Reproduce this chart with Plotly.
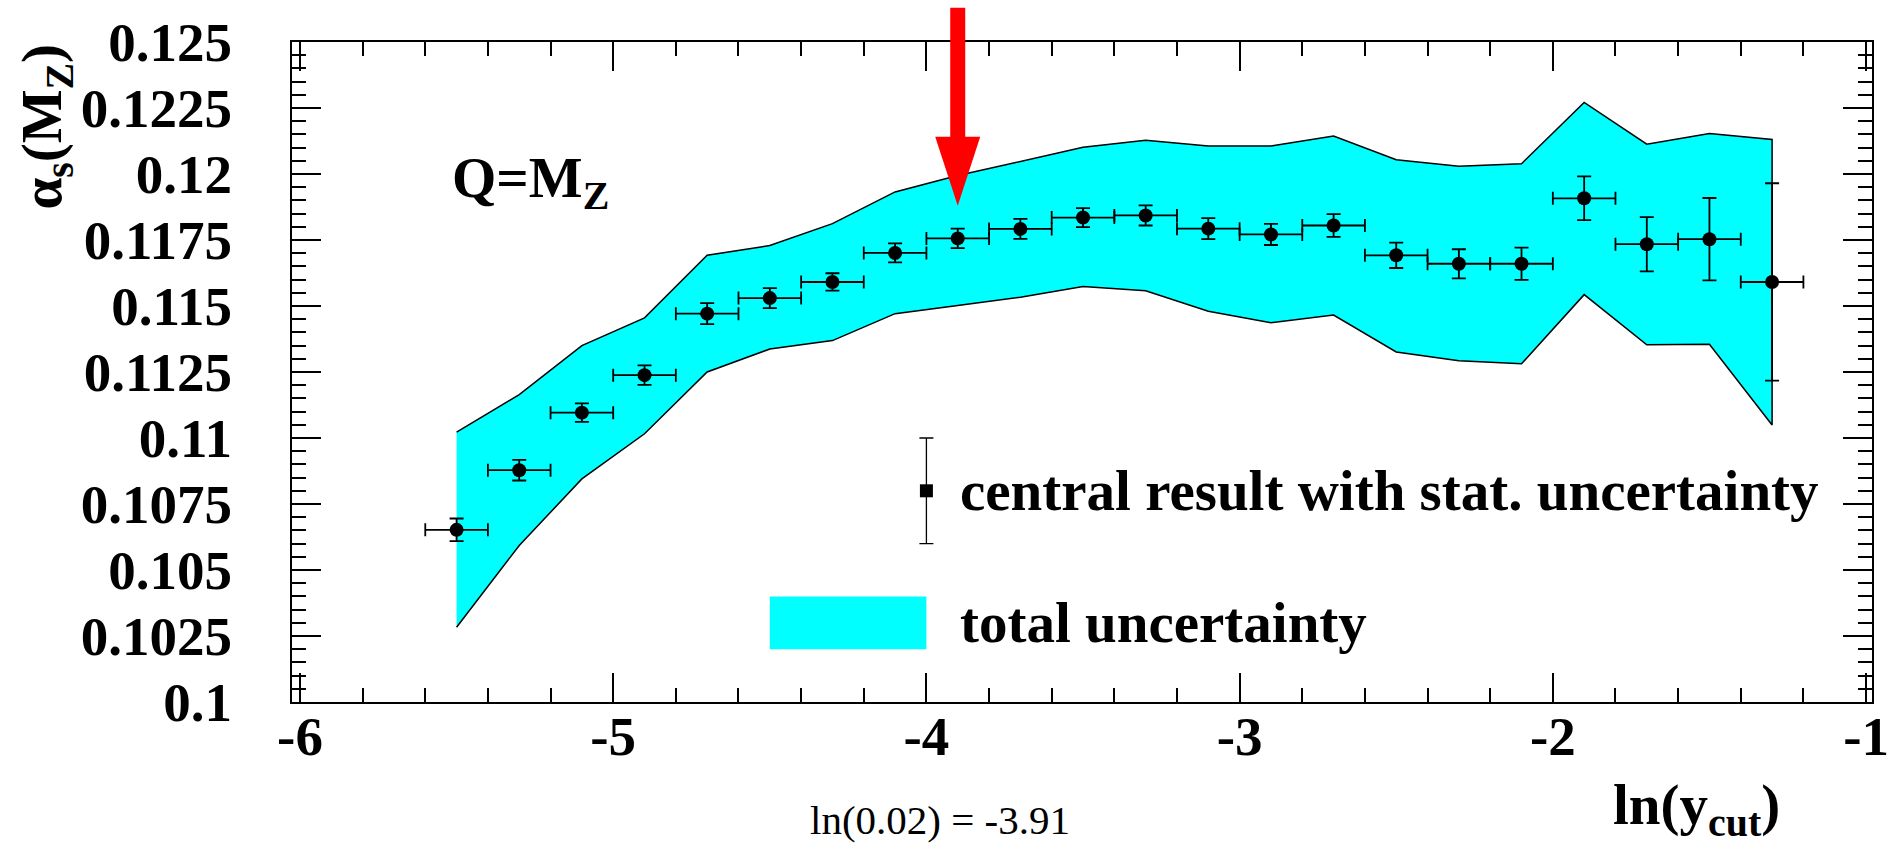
import plotly.graph_objects as go

# ---------------- data ----------------
ln_ycut = [-5.5, -5.3, -5.1, -4.9, -4.7, -4.5, -4.3, -4.1, -3.9, -3.7, -3.5,
           -3.3, -3.1, -2.9, -2.7, -2.5, -2.3, -2.1, -1.9, -1.7, -1.5, -1.3]
alpha_s = [0.10652, 0.10878, 0.11096, 0.11238, 0.11471, 0.11530, 0.11591,
           0.11701, 0.11756, 0.11792, 0.11835, 0.11843, 0.11793, 0.11771,
           0.11805, 0.11692, 0.11660, 0.11660, 0.11908, 0.11734, 0.11753,
           0.11591]
stat_err = [0.00043, 0.00039, 0.00035, 0.00037, 0.00040, 0.00038, 0.00033,
            0.00036, 0.00037, 0.00038, 0.00036, 0.00038, 0.00040, 0.00040,
            0.00043, 0.00048, 0.00055, 0.00061, 0.00083, 0.00103, 0.00156,
            0.00374]
bin_half_width = 0.1
band_upper = [0.11022, 0.11164, 0.11350, 0.11455, 0.11692, 0.11729, 0.11812,
              0.11932, 0.11994, 0.12047, 0.12101, 0.12128, 0.12106, 0.12106,
              0.12144, 0.12054, 0.12029, 0.12039, 0.12271, 0.12113, 0.12153,
              0.12131]
band_lower = [0.10283, 0.10593, 0.10845, 0.11016, 0.11250, 0.11337, 0.11369,
              0.11471, 0.11502, 0.11533, 0.11574, 0.11558, 0.11480, 0.11437,
              0.11466, 0.11326, 0.11293, 0.11281, 0.11543, 0.11353, 0.11355,
              0.11049]

x_tick_vals = [-6, -5, -4, -3, -2, -1]
x_tick_text = ["-6", "-5", "-4", "-3", "-2", "-1"]
y_tick_vals = [0.1, 0.1025, 0.105, 0.1075, 0.11, 0.1125, 0.115, 0.1175, 0.12,
               0.1225, 0.125]
y_tick_text = ["0.1", "0.1025", "0.105", "0.1075", "0.11", "0.1125", "0.115",
               "0.1175", "0.12", "0.1225", "0.125"]

# legend sample / annotation anchors (data units)
legend_point_x, legend_point_y, legend_point_err = -4.0, 0.108, 0.002
legend_box_x = [-4.5, -4.0]
legend_box_y = [0.102, 0.104]
legend_text_x = -3.9
arrow_x = -3.9          # ln(0.02) = -3.91
arrow_tip_y = 0.1188

# ---------------- layout geometry ----------------
W, H = 1901, 849
L, R, T, B = 292, 25, 30, 147
PW, PH = W - L - R, H - T - B
X_RANGE = [-6.0255, -0.981]
Y_RANGE = [0.1, 0.125]


def px_x(px):
    return (px - L) / PW


def px_y(py):
    return (H - B - py) / PH


FONT = "Liberation Serif, Times New Roman, Times, DejaVu Serif, serif"
BLACK = "#000000"
CYAN = "#00FFFF"
RED = "#FF0000"

fig = go.Figure()

# total uncertainty band
fig.add_trace(go.Scatter(
    x=ln_ycut + ln_ycut[::-1],
    y=band_upper + band_lower[::-1],
    mode="lines", fill="toself", fillcolor=CYAN,
    line=dict(color=BLACK, width=1.5),
    hoverinfo="skip", showlegend=False,
))

# central values with stat. uncertainty
fig.add_trace(go.Scatter(
    x=ln_ycut, y=alpha_s, mode="markers",
    marker=dict(symbol="circle", size=14, color=BLACK),
    error_y=dict(type="data", array=stat_err, visible=True,
                 color=BLACK, thickness=1.8, width=7),
    error_x=dict(type="constant", value=bin_half_width, visible=True,
                 color=BLACK, thickness=1.8, width=6.5),
    showlegend=False,
))

# legend sample point
fig.add_trace(go.Scatter(
    x=[legend_point_x], y=[legend_point_y], mode="markers",
    marker=dict(symbol="square", size=13, color=BLACK),
    error_y=dict(type="constant", value=legend_point_err, visible=True,
                 color=BLACK, thickness=1.3, width=7),
    showlegend=False,
))

shapes = [
    # legend swatch
    dict(type="rect", xref="x", yref="y",
         x0=legend_box_x[0], x1=legend_box_x[1],
         y0=legend_box_y[0], y1=legend_box_y[1],
         fillcolor=CYAN, line=dict(width=0), layer="above"),
    # arrow shaft
    dict(type="rect", xref="x", yref="paper", xsizemode="pixel",
         xanchor=arrow_x, x0=-7.5, x1=7.5, y0=px_y(134), y1=px_y(-5),
         fillcolor=RED, line=dict(width=0), layer="above"),
    # arrow head
    dict(type="path", xref="x", yref="y", xsizemode="pixel",
         ysizemode="pixel", xanchor=arrow_x, yanchor=arrow_tip_y,
         path="M -22.5 69 L 22.5 69 L 0 0 Z",
         fillcolor=RED, line=dict(width=0), layer="above"),
]

bold = dict(family=FONT, size=57, color=BLACK, weight="bold")

annotations = [
    dict(text="Q=M<sub>Z</sub>", xref="x", yref="y", x=-5.52, y=0.1197,
         xanchor="left", yanchor="middle", showarrow=False, font=bold),
    dict(text="central result with stat. uncertainty", xref="x", yref="y",
         x=legend_text_x, y=legend_point_y, xanchor="left",
         yanchor="middle", showarrow=False, font=bold),
    dict(text="total uncertainty", xref="x", yref="y",
         x=legend_text_x, y=sum(legend_box_y) / 2, xanchor="left",
         yanchor="middle", showarrow=False, font=bold),
    dict(text="ln(y<sub>cut</sub>)", xref="paper", yref="paper",
         x=px_x(1785), y=px_y(849), xanchor="right", yanchor="bottom",
         borderpad=0, showarrow=False, font=bold),
    dict(text="α<sub>s</sub>(M<sub>Z</sub>)", xref="paper", yref="paper",
         x=px_x(45), y=px_y(30), xanchor="center", yanchor="top",
         textangle=-90, showarrow=False, font=bold),
    dict(text="ln(0.02) = -3.91", xref="paper", yref="paper",
         x=px_x(942), y=px_y(822), xanchor="center", yanchor="middle",
         borderpad=0, showarrow=False,
         font=dict(family=FONT, size=41, color=BLACK)),
]

axis_common = dict(
    showline=True, linecolor=BLACK, linewidth=2, mirror="allticks",
    ticks="inside", tickcolor=BLACK, tickwidth=1.5, ticklen=29,
    showgrid=False, zeroline=False,
    tickfont=dict(family=FONT, size=55, color=BLACK, weight="bold"),
)

fig.update_layout(
    width=W, height=H, autosize=False,
    margin=dict(l=L, r=R, t=T, b=B, pad=0),
    paper_bgcolor="white", plot_bgcolor="white",
    xaxis=dict(range=X_RANGE, tickmode="array", tickvals=x_tick_vals,
               ticktext=x_tick_text, ticklabelstandoff=-15,
               minor=dict(ticks="inside", ticklen=14, tickwidth=1.5,
                          tickcolor=BLACK, dtick=0.2, showgrid=False),
               **axis_common),
    yaxis=dict(range=Y_RANGE, tickmode="array", tickvals=y_tick_vals,
               ticktext=y_tick_text, ticklabelstandoff=47,
               minor=dict(ticks="inside", ticklen=14, tickwidth=1.5,
                          tickcolor=BLACK, dtick=0.0005, showgrid=False),
               **axis_common),
    shapes=shapes, annotations=annotations, showlegend=False,
)

fig.write_html("out.html")
